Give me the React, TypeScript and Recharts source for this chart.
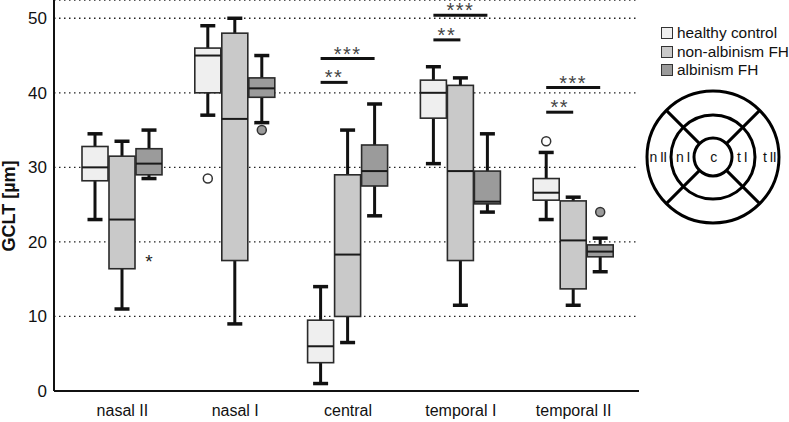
import React from 'react';
import { ComposedChart, Bar, XAxis, YAxis, CartesianGrid, Legend } from 'recharts';

const CATEGORIES = ['nasal II', 'nasal I', 'central', 'temporal I', 'temporal II'];
const GROUPS = ['healthy control', 'non-albinism FH', 'albinism FH'];

// five-number summaries per region: [min, q1, median, q3, max]
const HEALTHY = [
  [23, 28.2, 30, 32.8, 34.5],
  [37, 40, 45, 46, 49],
  [1, 3.8, 6, 9.5, 14],
  [30.5, 36.6, 40, 41.7, 43.5],
  [23, 25.6, 26.6, 28.5, 32],
];
const NON_ALBINISM = [
  [11, 16.4, 23, 31.5, 33.5],
  [9, 17.5, 36.5, 48, 50],
  [6.5, 10, 18.3, 29, 35],
  [11.5, 17.5, 29.5, 41, 42],
  [11.5, 13.7, 20.2, 25.5, 26],
];
const ALBINISM = [
  [28.5, 29, 30.5, 32.5, 35],
  [36, 39.4, 40.6, 42, 45],
  [23.5, 27.5, 29.5, 33, 38.5],
  [24, 25.1, 25.4, 29.5, 34.5],
  [16, 18, 18.7, 19.6, 20.5],
];

const HEALTHY_OUTLIERS = [[], [28.5], [], [], [33.5]];
const NON_ALBINISM_OUTLIERS: number[][] = [[], [], [], [], []];
const ALBINISM_OUTLIERS = [[], [35], [], [], [24]];
const ALBINISM_EXTREMES = [[18], [], [], [], []];

// significance bars, drawn from healthy control to the other group
const SIG_2 = [null, null, 41.4, 47.1, 37.4];
const SIG_3 = [null, null, 44.6, 50.4, 40.7];

const Y_TICKS = [0, 10, 20, 30, 40, 50];

const COLORS = ['#efefef', '#c9c9c9', '#9b9b9b'];
const BAR_GAP = 1;

const data = CATEGORIES.map((region, i) => ({
  region,
  idx: i,
  healthy: [HEALTHY[i][0], HEALTHY[i][4]],
  nonAlbinism: [NON_ALBINISM[i][0], NON_ALBINISM[i][4]],
  albinism: [ALBINISM[i][0], ALBINISM[i][4]],
}));

const makeBox =
  (stats: number[][], outliers: number[][], extremes: number[][] | null, fill: string, outlierFill: string, withSig: boolean) =>
  (props: any) => {
    const { x, y, width, height, payload } = props;
    const i = payload.idx;
    const [lo, q1, med, q3, hi] = stats[i];
    // map a value through the bar's own pixel extent (linear y scale)
    const toY = (v: number) => y + ((hi - v) / (hi - lo)) * height;
    const cx = x + width / 2;
    const cap = 7.5;
    const step = width + BAR_GAP;
    const sigs: [number | null, number, string][] = withSig
      ? [
          [SIG_2[i], 1, '**'],
          [SIG_3[i], 2, '***'],
        ]
      : [];
    return (
      <g>
        <line x1={cx} x2={cx} y1={toY(hi)} y2={toY(lo)} stroke="#111" strokeWidth={3} />
        <line x1={cx - cap} x2={cx + cap} y1={toY(hi)} y2={toY(hi)} stroke="#111" strokeWidth={3.5} />
        <line x1={cx - cap} x2={cx + cap} y1={toY(lo)} y2={toY(lo)} stroke="#111" strokeWidth={3.5} />
        <rect x={x} y={toY(q3)} width={width} height={toY(q1) - toY(q3)} fill={fill} stroke="#2a2a2a" strokeWidth={1.6} />
        <line x1={x} x2={x + width} y1={toY(med)} y2={toY(med)} stroke="#1a1a1a" strokeWidth={2} />
        {outliers[i].map((v, k) => (
          <circle key={k} cx={cx} cy={toY(v)} r={4.5} fill={outlierFill} stroke="#333" strokeWidth={1.5} />
        ))}
        {extremes &&
          extremes[i].map((v, k) => (
            <text key={'e' + k} x={cx} y={toY(v) + 11} textAnchor="middle" fontSize={19} fill="#222">
              *
            </text>
          ))}
        {sigs.map(([v, n, label]) =>
          v == null ? null : (
            <g key={label}>
              <line x1={cx} x2={cx + n * step} y1={toY(v)} y2={toY(v)} stroke="#111" strokeWidth={3} />
              <text x={cx + (n * step) / 2} y={toY(v) + 2} textAnchor="middle" fontSize={20} letterSpacing={1.5} fill="#444">
                {label}
              </text>
            </g>
          )
        )}
      </g>
    );
  };

const renderLegend = (props: any) => {
  const items = [...(props.payload || [])].sort((a: any, b: any) => GROUPS.indexOf(a.value) - GROUPS.indexOf(b.value));
  return (
    <div style={{ fontSize: 15.4, lineHeight: '18.5px', color: '#111' }}>
      {items.map((entry: any) => (
        <div key={entry.value} style={{ display: 'flex', alignItems: 'center', whiteSpace: 'nowrap' }}>
          <span
            style={{
              display: 'inline-block',
              width: 10,
              height: 10,
              background: entry.color,
              border: '1.5px solid #333',
              marginRight: 4,
            }}
          />
          {entry.value}
        </div>
      ))}
    </div>
  );
};

const SectorDiagram = () => {
  const cx = 713;
  const cy = 157;
  const r = [19, 42, 66];
  const d = Math.SQRT1_2;
  const dirs = [
    [1, 1],
    [1, -1],
    [-1, 1],
    [-1, -1],
  ];
  const labels: [string, number][] = [
    ['n II', 658],
    ['n I', 683],
    ['c', 713.5],
    ['t I', 742],
    ['t II', 769.5],
  ];
  return (
    <svg width={789} height={422} style={{ position: 'absolute', left: 0, top: 0, pointerEvents: 'none' }}>
      {r.map((rr) => (
        <circle key={rr} cx={cx} cy={cy} r={rr} fill="none" stroke="#000" strokeWidth={3} />
      ))}
      {dirs.map(([a, b], k) => (
        <line key={k} x1={cx + a * d * r[0]} y1={cy + b * d * r[0]} x2={cx + a * d * r[2]} y2={cy + b * d * r[2]} stroke="#000" strokeWidth={3} />
      ))}
      {labels.map(([t, lx]) => (
        <text key={t} x={lx} y={cy + 5} textAnchor="middle" fontSize={14} letterSpacing={-0.6} fill="#111">
          {t}
        </text>
      ))}
    </svg>
  );
};

const YLabel = () => (
  <text
    x={9}
    y={206}
    transform="rotate(-90, 9, 206)"
    textAnchor="middle"
    dominantBaseline="central"
    fontWeight="bold"
    fontSize={18}
    fill="#111"
  >
    GCLT [µm]
  </text>
);

const App: React.FC = () => {
  return (
    <div
      style={{
        position: 'absolute',
        left: 0,
        top: 0,
        width: 789,
        height: 422,
        background: '#fff',
        fontFamily: '"Liberation Sans", Arial, sans-serif',
      }}
    >
      <ComposedChart
        width={789}
        height={422}
        data={data}
        margin={{ top: 0, right: 150, bottom: 0, left: 0 }}
        barGap={BAR_GAP}
        barSize={26}
      >
        <CartesianGrid vertical={false} stroke="#222" strokeDasharray="1.5 3.5" strokeWidth={1.3} />
        <XAxis
          dataKey="region"
          tickLine={false}
          axisLine={{ stroke: '#111', strokeWidth: 2 }}
          tick={{ fill: '#111', fontSize: 16 }}
          tickMargin={8}
          padding={{ left: 12, right: 9 }}
          height={31}
        />
        <YAxis
          type="number"
          domain={[0, 52.45]}
          ticks={Y_TICKS}
          width={54}
          tickLine={false}
          tickMargin={1}
          axisLine={{ stroke: '#111', strokeWidth: 2 }}
          tick={{ fill: '#111', fontSize: 17 }}
          label={{ content: YLabel }}
        />
        <Legend
          layout="horizontal"
          verticalAlign="middle"
          align="center"
          wrapperStyle={{ position: 'absolute', left: 661, top: 24, width: 128 }}
          content={renderLegend}
        />
        <Bar
          dataKey="healthy"
          name={GROUPS[0]}
          fill={COLORS[0]}
          isAnimationActive={false}
          shape={makeBox(HEALTHY, HEALTHY_OUTLIERS, null, COLORS[0], '#fff', true)}
        />
        <Bar
          dataKey="nonAlbinism"
          name={GROUPS[1]}
          fill={COLORS[1]}
          isAnimationActive={false}
          shape={makeBox(NON_ALBINISM, NON_ALBINISM_OUTLIERS, null, COLORS[1], COLORS[1], false)}
        />
        <Bar
          dataKey="albinism"
          name={GROUPS[2]}
          fill={COLORS[2]}
          isAnimationActive={false}
          shape={makeBox(ALBINISM, ALBINISM_OUTLIERS, ALBINISM_EXTREMES, COLORS[2], COLORS[2], false)}
        />
      </ComposedChart>
      <SectorDiagram />
    </div>
  );
};

export default App;
